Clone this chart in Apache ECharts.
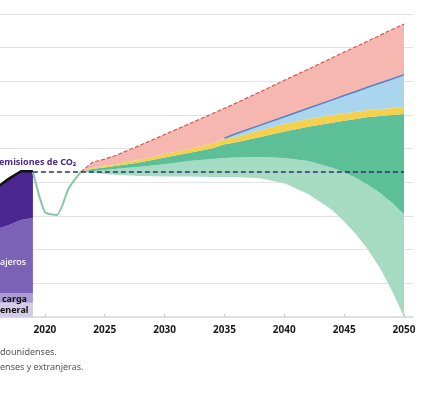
<!DOCTYPE html>
<html>
<head>
<meta charset="utf-8">
<title>emisiones de CO2</title>
<script src="https://cdn.jsdelivr.net/npm/echarts@6/dist/echarts.min.js"></script>
<style>
  html, body { margin: 0; padding: 0; background: #fff; }
  #chart { width: 422px; height: 397px; }
</style>
</head>
<body>
<div id="chart"></div>
<script>
// historico (apilado)
const histYears = [2016, 2017, 2018, 2019]
const histTotal = [3.85, 4.11, 4.33, 4.33]
const histPasajerosTop = [2.61, 2.73, 2.88, 2.94]
const histCargaTop = [0.71, 0.71, 0.71, 0.71]
const histGeneral = [0.42, 0.42, 0.42, 0.42]

// caida por covid
const covidYears = [2019, 2020, 2021, 2022, 2023]
const covidValues = [4.31, 3.12, 3.03, 3.83, 4.31]

// nivel de 2019
const baseYears = [2019, 2050]
const baseLevel = [4.31, 4.31]

// proyecciones (bordes de cada banda)
const projYears = [2023, 2024, 2025, 2026, 2028, 2030, 2032, 2034, 2035, 2036, 2038, 2040, 2042, 2044, 2045, 2046, 2047, 2048, 2049, 2050]
const redTop = [4.31, 4.60, 4.69, 4.81, 5.11, 5.42, 5.73, 6.04, 6.20, 6.36, 6.69, 7.03, 7.36, 7.70, 7.87, 8.03, 8.20, 8.37, 8.54, 8.70]
const blueTop = [null, null, null, null, null, null, null, null, 5.31, 5.45, 5.70, 5.95, 6.20, 6.45, 6.58, 6.70, 6.83, 6.95, 7.07, 7.20]
const yellowTop = [4.31, 4.43, 4.49, 4.55, 4.68, 4.84, 4.99, 5.15, 5.29, 5.35, 5.55, 5.73, 5.88, 6.00, 6.05, 6.10, 6.15, 6.18, 6.21, 6.24]
const yellowBottom = [4.31, 4.40, 4.44, 4.49, 4.60, 4.74, 4.87, 5.01, 5.13, 5.19, 5.35, 5.51, 5.65, 5.77, 5.83, 5.88, 5.94, 5.97, 6.00, 6.03]
const greenBottom = [4.31, 4.34, 4.37, 4.40, 4.46, 4.54, 4.63, 4.69, 4.72, 4.74, 4.75, 4.72, 4.63, 4.43, 4.30, 4.13, 3.92, 3.68, 3.39, 3.05]
const lightBottom = [4.31, 4.28, 4.25, 4.22, 4.19, 4.17, 4.17, 4.16, 4.16, 4.16, 4.12, 3.97, 3.65, 3.18, 2.84, 2.45, 2.00, 1.45, 0.78, 0]

const xTicks = [2020, 2025, 2030, 2035, 2040, 2045, 2050]

// el valor va primero para que el apilado se haga sobre el eje y
function pairs(xs, ys) {
  return xs.map((x, i) => [ys[i], x])
}
function diff(a, b) {
  return a.map((v, i) => +(v - b[i]).toFixed(3))
}

const blueOrYellow = projYears.map((y, i) => blueTop[i] == null ? yellowTop[i] : Math.max(blueTop[i], yellowTop[i]))

function band(stack, xs, values, color) {
  return {
    type: 'line',
    stack: stack,
    data: pairs(xs, values),
    encode: { x: 1, y: 0 },
    symbol: 'none',
    lineStyle: { width: 0, opacity: 0 },
    areaStyle: color ? { color: color, opacity: 1 } : { opacity: 0 },
    silent: true
  }
}
function line(xs, values, style, extra) {
  return Object.assign({
    type: 'line',
    data: pairs(xs, values),
    encode: { x: 1, y: 0 },
    symbol: 'none',
    lineStyle: style
  }, extra || {})
}

const chart = echarts.init(document.getElementById('chart'), null, { renderer: 'canvas' })

const option = {
  animation: false,
  backgroundColor: '#fff',
  grid: { left: 0, right: 9, top: 14, bottom: 80, containLabel: false, outerBoundsMode: 'none' },
  xAxis: {
    type: 'value',
    min: 2016.25,
    max: 2050.75,
    axisLine: { lineStyle: { color: '#d9d9d9', width: 1.5 } },
    axisTick: { inside: true, length: 3, lineStyle: { color: '#c8c8c8' }, customValues: xTicks },
    axisLabel: {
      customValues: xTicks,
      formatter: v => String(v),
      color: '#1a1a1a',
      fontWeight: 'bold',
      fontSize: 10,
      fontFamily: 'Noto Sans',
      margin: 8
    },
    splitLine: { show: false }
  },
  yAxis: {
    type: 'value',
    min: 0,
    max: 9,
    interval: 1,
    axisLabel: { show: false },
    axisLine: { show: false },
    axisTick: { show: false },
    splitLine: { lineStyle: { color: '#e3e3e3', width: 1.2 } }
  },
  series: [
    // bloque morado
    band('hist', histYears, histGeneral, '#d3cce6'),
    band('hist', histYears, diff(histCargaTop, histGeneral), '#ab9dd3'),
    band('hist', histYears, diff(histPasajerosTop, histCargaTop), '#7c62b7'),
    band('hist', histYears, diff(histTotal, histPasajerosTop), '#4a2690'),
    line(histYears, histTotal, { color: '#111', width: 2.5 }),
    // bandas de proyeccion
    band('proj', projYears, lightBottom, null),
    band('proj', projYears, diff(greenBottom, lightBottom), '#a6dbc3'),
    band('proj', projYears, diff(yellowBottom, greenBottom), '#5cbf97'),
    band('proj', projYears, diff(yellowTop, yellowBottom), '#f4d04c'),
    band('proj', projYears, diff(blueOrYellow, yellowTop), '#aad5ee'),
    band('proj', projYears, diff(redTop, blueOrYellow), '#f5b7af'),
    line(covidYears, covidValues, { color: '#84c8a3', width: 2 }, { smooth: 0.2 }),
    line(projYears, redTop, { color: '#cc5d55', width: 1.2, type: [4, 2] }),
    line(projYears, blueTop, { color: '#5b7fbf', width: 1.5 }),
    line(baseYears, baseLevel, { color: '#2c3566', width: 1.5, type: [5, 3] })
  ],
  graphic: [
    { type: 'text', z: 100, style: { x: -1, y: 162, text: 'emisiones de CO₂', font: 'bold 9px "Noto Sans"', fill: '#4b2a8c', verticalAlign: 'middle', textVerticalAlign: 'middle' } },
    { type: 'text', z: 100, style: { x: 0, y: 262, text: 'ajeros', font: '500 9px "Noto Sans"', fill: '#ffffff', verticalAlign: 'middle', textVerticalAlign: 'middle' } },
    { type: 'text', z: 100, style: { x: 27, y: 299, text: 'carga', font: 'bold 9px "Noto Sans"', fill: '#111', align: 'right', textAlign: 'right', verticalAlign: 'middle', textVerticalAlign: 'middle' } },
    { type: 'text', z: 100, style: { x: 0, y: 310, text: 'eneral', font: 'bold 9px "Noto Sans"', fill: '#111', verticalAlign: 'middle', textVerticalAlign: 'middle' } },
    { type: 'text', z: 100, style: { x: 0, y: 352, text: 'dounidenses.', font: '9px "Noto Sans"', fill: '#555', verticalAlign: 'middle', textVerticalAlign: 'middle' } },
    { type: 'text', z: 100, style: { x: 0, y: 367, text: 'enses y extranjeras.', font: '9px "Noto Sans"', fill: '#555', verticalAlign: 'middle', textVerticalAlign: 'middle' } }
  ]
}

chart.setOption(option)
</script>
</body>
</html>
